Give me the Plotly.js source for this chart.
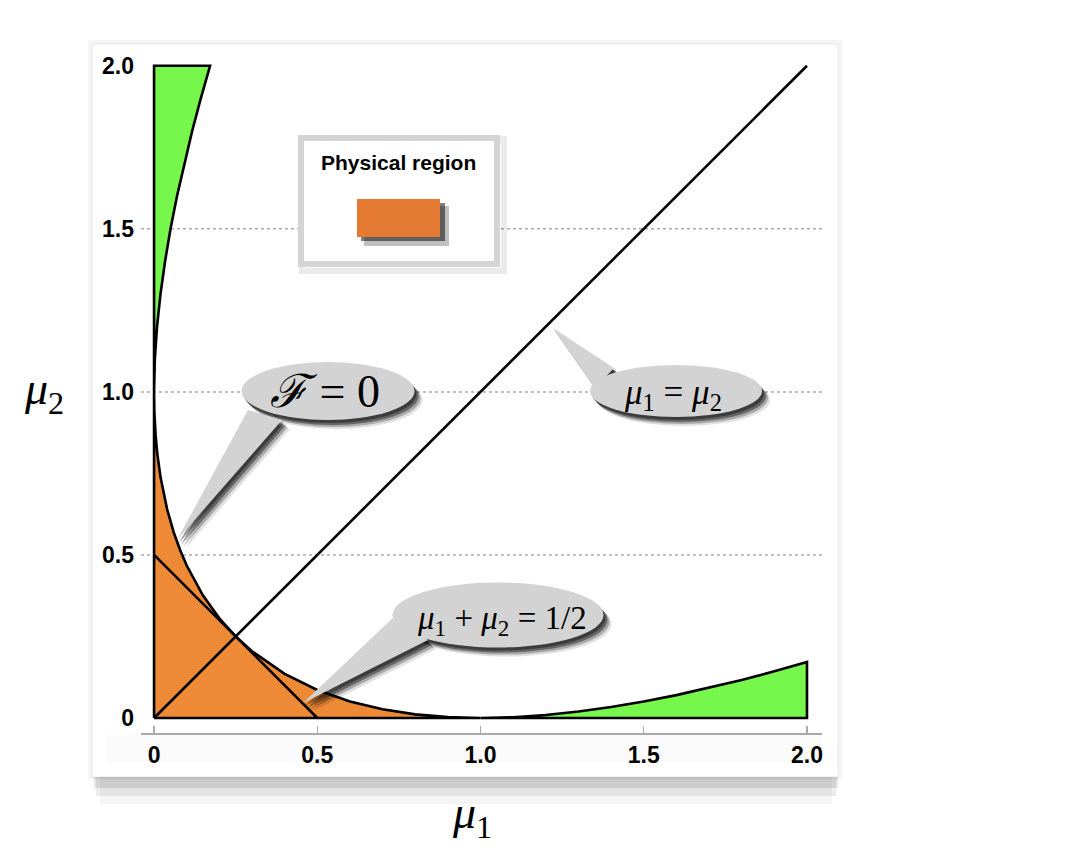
<!DOCTYPE html>
<html>
<head>
<meta charset="utf-8">
<script src="https://cdn.plot.ly/plotly-3.0.1.min.js"></script>
<style>html,body{margin:0;padding:0;background:#fff;}#chart{width:1068px;height:848px;}</style>
</head>
<body>
<div id="chart"></div>
<script>
// ---- Data ----
// Lower branch of F = 0 (0 <= mu1 <= 1)
const mu1Lower = [0, 0.001, 0.0025, 0.005, 0.01, 0.02, 0.04, 0.06, 0.08, 0.1, 0.15, 0.2, 0.25, 0.3, 0.4, 0.5, 0.6, 0.7, 0.8, 0.9, 1.0];
const mu2Lower = [1, 0.9378, 0.9025, 0.8636, 0.81, 0.7372, 0.64, 0.5701, 0.5143, 0.4675, 0.3754, 0.3056, 0.25, 0.2046, 0.1351, 0.0858, 0.0508, 0.0267, 0.0112, 0.0026, 0];
// Right branch of F = 0 (1 <= mu1 <= 2)
const mu1Right = [1.0, 1.1, 1.2, 1.3, 1.4, 1.5, 1.6, 1.7, 1.8, 1.9, 2.0];
const mu2Right = [0, 0.0024, 0.0091, 0.0197, 0.0336, 0.0505, 0.0702, 0.0923, 0.1167, 0.1432, 0.1716];
// Upper branch of F = 0 (1 <= mu2 <= 2)
const mu2Top = [1.0, 1.1, 1.2, 1.3, 1.4, 1.5, 1.6, 1.7, 1.8, 1.9, 2.0];
const mu1Top = [0, 0.0024, 0.0091, 0.0197, 0.0336, 0.0505, 0.0702, 0.0923, 0.1167, 0.1432, 0.1716];
// Straight lines
const diagX = [0, 2], diagY = [0, 2];          // mu1 = mu2
const halfX = [0, 0.5], halfY = [0.5, 0];      // mu1 + mu2 = 1/2
// Ticks
const tickVals = [0, 0.5, 1.0, 1.5, 2.0];
const tickText = ['0', '0.5', '1.0', '1.5', '2.0'];
const gridVals = [0.5, 1.0, 1.5];
const legendLabel = 'Physical region';

// ---- Style ----
const ORANGE = '#EE8936', LEG_ORANGE = '#E47A32', GREEN = '#77F74B';
const LINE = {color: '#000', width: 2.6};

// pixel -> paper helpers for decorations
const L = 141, R = 822, T = 56, B = 733;
const px = x => (x - L) / (R - L);
const py = y => (B - y) / (B - T);

const traces = [
  { // orange physical region
    x: [0].concat(mu1Lower.slice().reverse()).concat([0]),
    y: [0].concat(mu2Lower.slice().reverse()).concat([0]),
    mode: 'lines', fill: 'toself', fillcolor: ORANGE, line: LINE, hoverinfo: 'skip'
  },
  { // green right
    x: mu1Right.concat([2, 1]), y: mu2Right.concat([0, 0]),
    mode: 'lines', fill: 'toself', fillcolor: GREEN, line: LINE, hoverinfo: 'skip'
  },
  { // green top
    x: mu1Top.concat([0, 0]), y: mu2Top.concat([2, 1]),
    mode: 'lines', fill: 'toself', fillcolor: GREEN, line: LINE, hoverinfo: 'skip'
  },
  { x: diagX, y: diagY, mode: 'lines', line: LINE, hoverinfo: 'skip' },
  { x: halfX, y: halfY, mode: 'lines', line: LINE, hoverinfo: 'skip' }
];

const shapes = [];
function prect(x0, y0, x1, y1, fill, line, layer) {
  shapes.push({type: 'rect', xref: 'paper', yref: 'paper', x0: px(x0), x1: px(x1), y0: py(y1), y1: py(y0),
    fillcolor: fill, line: line || {width: 0}, layer: layer || 'below'});
}
function pellipse(cx, cy, w, h, fill, layer) {
  shapes.push({type: 'circle', xref: 'paper', yref: 'paper', x0: px(cx - w / 2), x1: px(cx + w / 2),
    y0: py(cy + h / 2), y1: py(cy - h / 2), fillcolor: fill, line: {width: 0}, layer: layer || 'above'});
}
function ppoly(pts, fill, layer) {
  const d = pts.map((p, i) => (i ? 'L' : 'M') + px(p[0]).toFixed(5) + ',' + py(p[1]).toFixed(5)).join(' ') + ' Z';
  shapes.push({type: 'path', xref: 'paper', yref: 'paper', path: d, fillcolor: fill, line: {width: 0}, layer: layer || 'above'});
}

// panel with shadow
prect(100, 776, 832, 804, 'rgba(0,0,0,0.04)');
prect(96, 772, 836, 796, 'rgba(0,0,0,0.07)');
prect(94, 770, 838, 788, 'rgba(0,0,0,0.10)');
prect(88, 40, 842, 780, 'rgba(0,0,0,0.035)');
prect(92, 44, 838, 777, '#ffffff', {color: 'rgba(0,0,0,0.06)', width: 1.5});
prect(107, 735, 822, 762, '#fafafa');

// dotted grid lines
gridVals.forEach(v => shapes.push({type: 'line', xref: 'paper', yref: 'y', x0: 0, x1: 1, y0: v, y1: v,
  line: {color: '#aaaaaa', width: 1.5, dash: 'dot'}, layer: 'below'}));

// legend box
prect(302, 139, 504, 271, 'rgba(0,0,0,0)', {color: 'rgba(0,0,0,0.08)', width: 6}, 'above');
prect(301, 138, 497, 264, '#ffffff', {color: '#d4d4d4', width: 6}, 'above');
prect(364, 206, 449, 246, 'rgba(0,0,0,0.25)', null, 'above');
prect(361, 203, 445, 241, 'rgba(0,0,0,0.5)', null, 'above');
prect(357, 199, 440, 237, LEG_ORANGE, null, 'above');

// callouts
const CALL = '#d3d3d3';
function callout(cx, cy, w, h, tail) {
  const sh = [[8, 9, 'rgba(0,0,0,0.12)'], [6, 7, 'rgba(0,0,0,0.25)'], [4, 5, 'rgba(0,0,0,0.4)'], [2, 3, 'rgba(0,0,0,0.4)']];
  sh.forEach(s => {
    ppoly(tail.map(p => [p[0] + s[0], p[1] + s[1]]), s[2]);
    pellipse(cx + s[0], cy + s[1], w, h, s[2]);
  });
  ppoly(tail, CALL);
  pellipse(cx, cy, w, h, CALL);
}
callout(328, 391, 173, 58, [[177, 540], [248, 410], [282, 420]]);
callout(676, 391, 172, 52, [[553, 328], [614, 368], [595, 388]]);
callout(498, 615, 211, 65, [[303, 703], [395, 616], [428, 640]]);

const annotations = [
  {text: '<i>ℱ</i>&nbsp;=&nbsp;0', x: px(325), y: py(391), font: {family: 'Liberation Serif, DejaVu Serif, serif', size: 46, color: '#000'}},
  {text: '<i>μ</i><sub>1</sub>&nbsp;=&nbsp;<i>μ</i><sub>2</sub>', x: px(673), y: py(395), font: {family: 'Liberation Serif, serif', size: 35, color: '#000'}},
  {text: '<i>μ</i><sub>1</sub> + <i>μ</i><sub>2</sub> = 1/2', x: px(502), y: py(620), font: {family: 'Liberation Serif, serif', size: 33, color: '#000'}},
  {text: legendLabel, x: px(398), y: py(163), font: {family: 'Liberation Sans, Arial, sans-serif', size: 21, weight: 'bold', color: '#000'}},
  {text: '<i>μ</i><sub>2</sub>', x: px(44), y: py(392), font: {family: 'Liberation Serif, serif', size: 46, color: '#000'}},
  {text: '<i>μ</i><sub>1</sub>', x: px(472), y: py(816), font: {family: 'Liberation Serif, serif', size: 46, color: '#000'}}
].map(a => Object.assign({xref: 'paper', yref: 'paper', showarrow: false, xanchor: 'center', yanchor: 'middle'}, a));

const tickFont = {family: 'Liberation Sans Narrow, Liberation Sans, Arial, sans-serif', size: 23, weight: 700, color: '#000'};
const layout = {
  width: 1068, height: 848,
  margin: {l: L, r: 1068 - R, t: T, b: 848 - B, pad: 0},
  paper_bgcolor: '#ffffff', plot_bgcolor: 'rgba(0,0,0,0)',
  showlegend: false,
  xaxis: {range: [-0.04, 2.046], tickvals: tickVals, ticktext: tickText, showgrid: false, zeroline: false,
    showline: true, linecolor: '#aaaaaa', linewidth: 2, ticks: 'inside', ticklen: 7, tickwidth: 1.2, tickcolor: '#aaaaaa',
    tickfont: tickFont, ticklabelstandoff: 0, fixedrange: true},
  yaxis: {range: [-0.046, 2.03], tickvals: tickVals, ticktext: tickText, showgrid: false, zeroline: false,
    showline: false, ticks: '', tickfont: tickFont, ticklabelstandoff: 6, fixedrange: true},
  shapes: shapes,
  annotations: annotations
};
Plotly.newPlot('chart', traces, layout, {displayModeBar: false, staticPlot: true});
</script>
</body>
</html>
